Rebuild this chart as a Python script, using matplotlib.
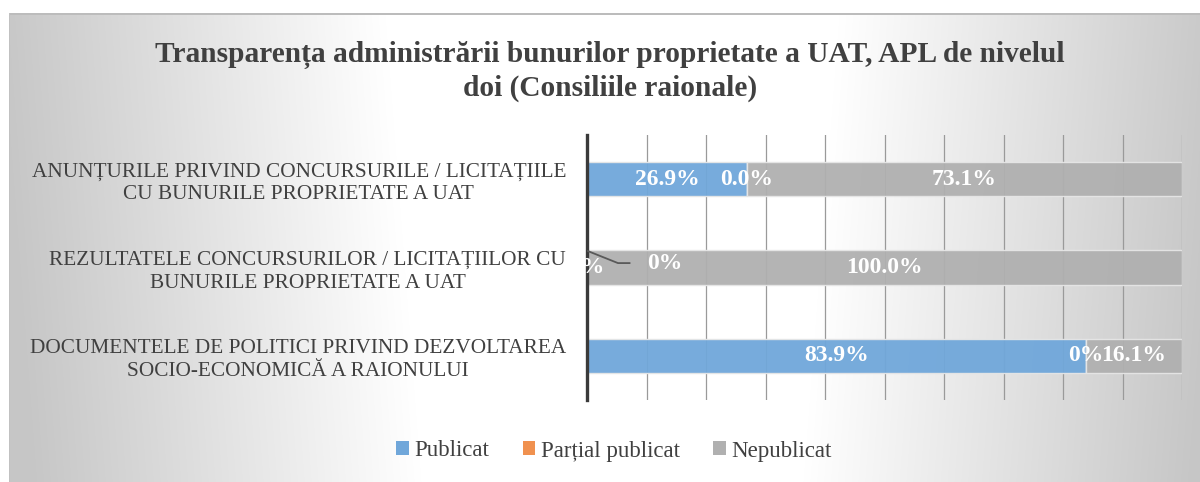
import numpy as np
import matplotlib
matplotlib.use("Agg")
import matplotlib.pyplot as plt
from matplotlib.patches import Patch

plt.rcParams['font.family'] = ['Liberation Serif', 'DejaVu Serif']

title = "Transparența administrării bunurilor proprietate a UAT, APL de nivelul\ndoi (Consiliile raionale)"
categories = [
    "ANUNȚURILE PRIVIND CONCURSURILE / LICITAȚIILE\nCU BUNURILE PROPRIETATE A UAT",
    "REZULTATELE CONCURSURILOR / LICITAȚIILOR CU\nBUNURILE PROPRIETATE A UAT",
    "DOCUMENTELE DE POLITICI PRIVIND DEZVOLTAREA\nSOCIO-ECONOMICĂ A RAIONULUI",
]
series_names = ["Publicat", "Parțial publicat", "Nepublicat"]
publicat = [26.9, 0.0, 83.9]
partial = [0.0, 0.0, 0.0]
nepublicat = [73.1, 100.0, 16.1]
labels_publicat = ["26.9%", "0%", "83.9%"]
labels_partial = ["0.0%", "0%", "0%"]
labels_nepublicat = ["73.1%", "100.0%", "16.1%"]

colors = ["#70a7da", "#f0914f", "#b0b0b0"]

W, H = 1200, 482
fig = plt.figure(figsize=(W / 100, H / 100), dpi=100)

# background gradient frame
bg = fig.add_axes([0, 0, 1, 1])
yy, xx = np.mgrid[0:H, 0:W].astype(float)
hw = 228 - 0.077 * yy
t = np.clip((np.abs(xx - 612) - hw) / 385.0, 0, 1)
g = 1 - 0.22 * t
g[(xx < 9) | (yy < 13)] = 1.0
img = np.dstack([g, g, g])
img[13:15, 9:, :] = 0.74
img[13:, 9:10, :] = 0.76
bg.imshow(img, extent=[0, W, H, 0], aspect='auto', interpolation='bilinear')
bg.set_xlim(0, W)
bg.set_ylim(H, 0)
bg.axis('off')

# main axes
x0, x1 = 587, 1182
y0, y1 = 135, 400
ax = fig.add_axes([x0 / W, 1 - y1 / H, (x1 - x0) / W, (y1 - y0) / H])
ax.set_facecolor('none')

ypos = np.arange(len(categories))
h = 0.385
pub = np.array(publicat) / 100
par = np.array(partial) / 100
nep = np.array(nepublicat) / 100
ax.barh(ypos, pub, height=h, color=colors[0], edgecolor='#e6e6e6', linewidth=1, alpha=0.95, zorder=2)
ax.barh(ypos, par, left=pub, height=h, color=colors[1], edgecolor='#e6e6e6', linewidth=1, alpha=0.95, zorder=2)
ax.barh(ypos, nep, left=pub + par, height=h, color=colors[2], edgecolor='#e6e6e6', linewidth=1, alpha=0.95, zorder=2)

ax.set_xlim(0, 1)
ax.set_ylim(2.5, -0.5)
ax.set_xticks(np.arange(0, 1.01, 0.1))
ax.xaxis.grid(True, color='#9a9a9a', linewidth=0.9, zorder=1)
ax.set_axisbelow(True)
ax.tick_params(axis='x', length=0, labelbottom=False)
ax.tick_params(axis='y', length=0, pad=15)
ax.set_yticks(ypos)
ax.set_yticklabels(categories, fontsize=15.3, color='#404040', multialignment='center', linespacing=1.25)
for s in ['top', 'right', 'bottom']:
    ax.spines[s].set_visible(False)
ax.spines['left'].set_color('#3a3a3a')
ax.spines['left'].set_linewidth(2.4)
ax.spines['left'].set_zorder(2.5)

lab_kw = dict(ha='center', va='center', color='white', fontsize=17, fontweight='bold', zorder=4)
for i in range(len(categories)):
    ax.text(pub[i] / 2, ypos[i], labels_publicat[i], **lab_kw)
    ax.text(pub[i] + nep[i] / 2 + par[i], ypos[i], labels_nepublicat[i], **lab_kw)
    if i == 1:
        ax.plot([pub[i] + par[i] / 2, 0.052, 0.073], [ypos[i] - 0.19, ypos[i] - 0.05, ypos[i] - 0.05],
                color='#595959', linewidth=1.3, zorder=3, solid_capstyle='butt')
        ax.text(0.13, ypos[i] - 0.05, labels_partial[i], **lab_kw)
    else:
        ax.text(pub[i] + par[i] / 2, ypos[i], labels_partial[i], **lab_kw)

fig.text(610 / W, 1 - 71.5 / H, title, ha='center', va='center', fontsize=21.2,
         fontweight='bold', color='#404040', linespacing=1.26)

handles = [Patch(facecolor=c, edgecolor='none') for c in colors]
fig.legend(handles, series_names, loc='center', bbox_to_anchor=(614 / W, 1 - 451 / H), ncol=3,
           frameon=False, fontsize=16.5, labelcolor='#404040', handlelength=0.55, handleheight=0.55,
           handletextpad=0.25, columnspacing=1.45)

fig.savefig('out.png', dpi=100)
